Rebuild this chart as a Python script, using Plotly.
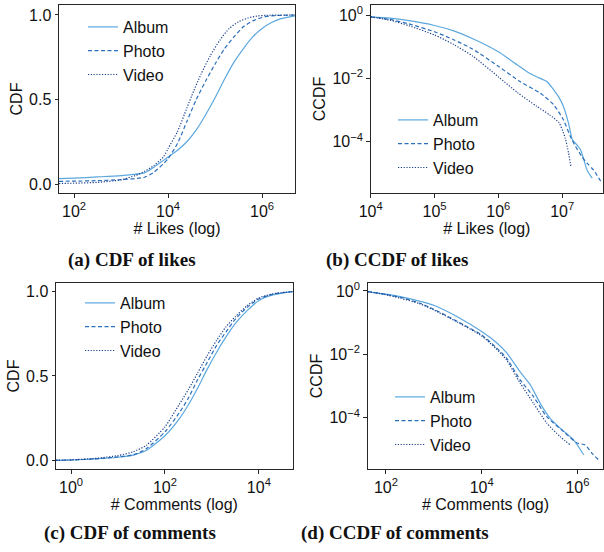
import numpy as np
import plotly.graph_objects as go

# ---------------- data (log10 of values) ----------------
# (a) CDF of likes: x = log10(#likes), y = CDF
likes_cdf_album_lx = [1.68, 2.0, 2.5, 3.0, 3.5, 3.7, 3.9, 4.0, 4.2, 4.4, 4.6, 4.8, 5.0, 5.2, 5.4, 5.6, 5.8, 6.0, 6.2, 6.4, 6.7]
likes_cdf_album_y = [0.032, 0.035, 0.042, 0.05, 0.066, 0.10, 0.14, 0.16, 0.20, 0.25, 0.32, 0.41, 0.51, 0.62, 0.72, 0.80, 0.87, 0.92, 0.955, 0.978, 0.995]
likes_cdf_photo_lx = [1.68, 2.0, 2.5, 3.0, 3.5, 3.7, 3.9, 4.0, 4.2, 4.4, 4.6, 4.8, 5.0, 5.2, 5.4, 5.6, 5.8, 6.0, 6.2, 6.7]
likes_cdf_photo_y = [0.016, 0.017, 0.02, 0.026, 0.04, 0.07, 0.12, 0.15, 0.24, 0.37, 0.50, 0.61, 0.71, 0.80, 0.87, 0.93, 0.965, 0.985, 0.995, 1.0]
likes_cdf_video_lx = [1.68, 2.0, 2.5, 3.0, 3.3, 3.5, 3.7, 3.9, 4.0, 4.2, 4.4, 4.5, 4.7, 4.9, 5.1, 5.3, 5.5, 5.7, 5.9, 6.1, 6.7]
likes_cdf_video_y = [0.003, 0.005, 0.01, 0.025, 0.05, 0.075, 0.11, 0.16, 0.21, 0.31, 0.45, 0.52, 0.65, 0.76, 0.85, 0.92, 0.96, 0.982, 0.994, 0.998, 1.0]

# (b) CCDF of likes: log10(x), log10(CCDF)
likes_ccdf_album_lx = [4.0, 4.3, 4.6, 5.0, 5.3, 5.6, 6.0, 6.3, 6.45, 6.6, 6.76, 6.87, 6.95, 7.02, 7.10, 7.16, 7.21, 7.29, 7.34, 7.39, 7.47]
likes_ccdf_album_ly = [-0.06, -0.10, -0.18, -0.33, -0.50, -0.75, -1.16, -1.58, -1.79, -1.95, -2.10, -2.37, -2.60, -2.89, -3.42, -3.94, -4.05, -4.26, -4.57, -4.89, -5.15]
likes_ccdf_photo_lx = [4.0, 4.3, 4.6, 5.0, 5.3, 5.6, 6.0, 6.34, 6.66, 6.87, 7.02, 7.13, 7.21, 7.31, 7.39, 7.49, 7.62]
likes_ccdf_photo_ly = [-0.06, -0.14, -0.28, -0.53, -0.78, -1.08, -1.62, -2.10, -2.47, -2.84, -3.31, -3.84, -4.15, -4.47, -4.68, -4.89, -5.30]
likes_ccdf_video_lx = [4.0, 4.3, 4.6, 5.0, 5.3, 5.6, 6.0, 6.3, 6.6, 6.8, 6.95, 7.05, 7.10, 7.14]
likes_ccdf_video_ly = [-0.06, -0.16, -0.34, -0.63, -0.93, -1.30, -1.95, -2.45, -2.88, -3.15, -3.40, -3.90, -4.36, -4.82]

# (c) CDF of comments
comm_cdf_lx = [-0.32, 0.0, 0.5, 1.0, 1.33, 1.6, 2.0, 2.3, 2.5, 2.7, 2.9, 3.1, 3.3, 3.5, 3.75, 4.0, 4.3, 4.72]
comm_cdf_album_y = [0.002, 0.004, 0.01, 0.02, 0.033, 0.06, 0.147, 0.245, 0.33, 0.43, 0.54, 0.64, 0.73, 0.81, 0.885, 0.945, 0.978, 0.997]
comm_cdf_photo_y = [0.002, 0.004, 0.01, 0.022, 0.035, 0.07, 0.17, 0.28, 0.37, 0.48, 0.58, 0.68, 0.76, 0.835, 0.905, 0.955, 0.983, 0.998]
comm_cdf_video_y = [0.003, 0.005, 0.013, 0.03, 0.053, 0.09, 0.20, 0.33, 0.42, 0.52, 0.62, 0.71, 0.79, 0.85, 0.915, 0.96, 0.985, 0.998]

# (d) CCDF of comments
comm_ccdf_album_lx = [1.62, 2.0, 2.3, 2.7, 3.0, 3.5, 4.0, 4.3, 4.52, 4.8, 5.01, 5.22, 5.43, 5.64, 5.92, 6.13]
comm_ccdf_album_ly = [-0.02, -0.10, -0.18, -0.32, -0.45, -0.82, -1.28, -1.62, -1.95, -2.55, -2.95, -3.54, -4.02, -4.33, -4.70, -5.17]
comm_ccdf_photo_lx = [1.62, 2.0, 2.3, 2.7, 3.0, 3.5, 4.0, 4.3, 4.52, 4.8, 5.08, 5.36, 5.71, 5.99, 6.16, 6.30, 6.44]
comm_ccdf_photo_ly = [-0.02, -0.11, -0.20, -0.38, -0.58, -0.97, -1.39, -1.78, -2.12, -2.80, -3.33, -3.97, -4.44, -4.80, -4.86, -5.12, -5.33]
comm_ccdf_video_lx = [1.62, 2.0, 2.3, 2.7, 3.0, 3.5, 4.0, 4.3, 4.52, 4.8, 5.08, 5.36, 5.64, 5.85]
comm_ccdf_video_ly = [-0.02, -0.12, -0.23, -0.40, -0.60, -0.99, -1.42, -1.82, -2.18, -2.90, -3.54, -4.17, -4.60, -4.86]

series_names = ["Album", "Photo", "Video"]
captions = ["(a) CDF of likes", "(b) CCDF of likes", "(c) CDF of comments", "(d) CCDF of comments"]

# ---------------- styling ----------------
W, H = 604, 552
COLORS = {"Album": "#5ca8de", "Photo": "#2b6fba", "Video": "#1b3f8c"}
DASH = {"Album": "solid", "Photo": "4px,2.5px", "Video": "1.2px,1.6px"}
FONT = "Liberation Sans, Arial, sans-serif"
LW = 1.2

def p10(a):
    return np.power(10.0, np.array(a, dtype=float))

fig = go.Figure()

def add(name, x, y, k, legend):
    fig.add_trace(go.Scatter(
        x=x, y=y, mode="lines", name=name,
        line=dict(color=COLORS[name], width=LW, dash=DASH[name], shape="spline", smoothing=0.6),
        xaxis="x" + ("" if k == 1 else str(k)), yaxis="y" + ("" if k == 1 else str(k)),
        legend=legend, showlegend=True))

# (a)
add("Album", p10(likes_cdf_album_lx), likes_cdf_album_y, 1, "legend")
add("Photo", p10(likes_cdf_photo_lx), likes_cdf_photo_y, 1, "legend")
add("Video", p10(likes_cdf_video_lx), likes_cdf_video_y, 1, "legend")
# (b)
add("Album", p10(likes_ccdf_album_lx), p10(likes_ccdf_album_ly), 2, "legend2")
add("Photo", p10(likes_ccdf_photo_lx), p10(likes_ccdf_photo_ly), 2, "legend2")
add("Video", p10(likes_ccdf_video_lx), p10(likes_ccdf_video_ly), 2, "legend2")
# (c)
add("Album", p10(comm_cdf_lx), comm_cdf_album_y, 3, "legend3")
add("Photo", p10(comm_cdf_lx), comm_cdf_photo_y, 3, "legend3")
add("Video", p10(comm_cdf_lx), comm_cdf_video_y, 3, "legend3")
# (d)
add("Album", p10(comm_ccdf_album_lx), p10(comm_ccdf_album_ly), 4, "legend4")
add("Photo", p10(comm_ccdf_photo_lx), p10(comm_ccdf_photo_ly), 4, "legend4")
add("Video", p10(comm_ccdf_video_lx), p10(comm_ccdf_video_ly), 4, "legend4")

def dx(a, b):
    return [a / W, b / W]

def dy(top, bottom):
    return [1 - bottom / H, 1 - top / H]

def sup(e):
    s = str(e).replace("-", "\u2212")
    return "10<sup>%s</sup>" % s

axis_common = dict(showline=True, linecolor="#262626", linewidth=1, mirror=True,
                   ticks="outside", ticklen=3.5, tickwidth=1, tickcolor="#262626",
                   showgrid=False, zeroline=False, automargin=False,
                   tickfont=dict(family=FONT, size=16, color="#111"))
title_font = dict(family=FONT, size=16, color="#111")

# panel geometry in pixels: (left, right, top, bottom)
geo = {1: (59, 295, 5, 193), 2: (370.7, 603, 5, 193), 3: (56, 292.7, 282.7, 469.3), 4: (367.7, 603.3, 282.7, 469.3)}
xr = {1: [1.68, 6.70], 2: [4.0, 7.64], 3: [-0.32, 4.72], 4: [1.62, 6.54]}
xt = {1: [2, 4, 6], 2: [4, 5, 6, 7], 3: [0, 2, 4], 4: [2, 4, 6]}
xtitle = {1: "# Likes (log)", 2: "# Likes (log)", 3: "# Comments (log)", 4: "# Comments (log)"}

layout = dict(width=W, height=H, margin=dict(l=0, r=0, t=0, b=0),
              paper_bgcolor="white", plot_bgcolor="white")

for k in (1, 2, 3, 4):
    l, r, t, b = geo[k]
    sfx = "" if k == 1 else str(k)
    layout["xaxis" + sfx] = dict(axis_common, type="log", range=xr[k], domain=dx(l, r),
                                 anchor="y" + sfx,
                                 tickvals=[10.0 ** e for e in xt[k]], ticktext=[sup(e) for e in xt[k]],
                                 title=dict(text=xtitle[k], font=title_font, standoff=3))
    if k in (1, 3):
        yrng = [-0.053, 1.059] if k == 1 else [-0.051, 1.05]
        layout["yaxis" + sfx] = dict(axis_common, range=yrng, domain=dy(t, b), anchor="x" + sfx,
                                     tickvals=[0, 0.5, 1.0], ticktext=["0.0", "0.5", "1.0"],
                                     title=dict(text="CDF", font=title_font, standoff=2))
    else:
        yrng = [-5.62, 0.316] if k == 2 else [-5.63, 0.26]
        layout["yaxis" + sfx] = dict(axis_common, type="log", range=yrng, domain=dy(t, b), anchor="x" + sfx,
                                     tickvals=[1.0, 1e-2, 1e-4], ticktext=[sup(0), sup(-2), sup(-4)],
                                     title=dict(text="CCDF", font=title_font, standoff=2))

leg_common = dict(bgcolor="rgba(0,0,0,0)", borderwidth=0, font=dict(family=FONT, size=16, color="#111"),
                  xanchor="left", yanchor="top", itemwidth=30)
legpos = {"legend": (83, 10), "legend2": (393, 103), "legend3": (80, 286), "legend4": (390, 380)}
for key, (lx, ly) in legpos.items():
    layout[key] = dict(leg_common, x=lx / W, y=1 - ly / H)

ann = []
capxy = [(131.7, 260), (396.7, 260), (129.7, 533), (395, 533)]
for txt, (cx, cy) in zip(captions, capxy):
    ann.append(dict(text="<b>%s</b>" % txt, x=cx / W, y=1 - cy / H, xref="paper", yref="paper",
                    xanchor="center", yanchor="middle", showarrow=False,
                    font=dict(family="Liberation Serif, Times New Roman, serif", size=19, color="#111")))
layout["annotations"] = ann

fig.update_layout(**layout)
fig.write_html("out.html")
